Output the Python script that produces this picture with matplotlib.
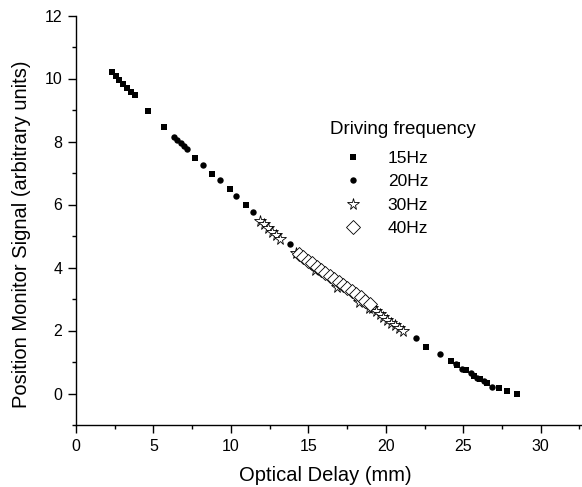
import matplotlib.pyplot as plt

plt.rcParams['font.family'] = ['Liberation Sans', 'DejaVu Sans']

# 15 Hz (squares)
x15 = [2.3, 2.55, 2.8, 3.05, 3.3, 3.55, 3.8, 4.67, 5.67, 7.71, 8.79, 9.91, 10.97,
       22.6, 24.18, 24.61, 25.15, 25.68, 26.11, 26.55, 27.3, 27.8, 28.49]
y15 = [10.2, 10.08, 9.95, 9.83, 9.7, 9.58, 9.47, 8.98, 8.47, 7.48, 6.98, 6.48, 5.97,
       1.48, 1.03, 0.9, 0.74, 0.56, 0.45, 0.32, 0.16, 0.07, -0.03]

# 20 Hz (circles)
x20 = [6.35, 6.55, 6.75, 6.95, 7.15, 8.17, 9.31, 10.36, 11.44, 13.79, 19.11, 21.98,
       23.53, 24.5, 24.93, 25.47, 25.9, 26.33, 26.87]
y20 = [8.15, 8.05, 7.95, 7.85, 7.75, 7.26, 6.77, 6.26, 5.76, 4.76, 2.77, 1.75,
       1.26, 0.95, 0.79, 0.64, 0.5, 0.39, 0.21]

# 30 Hz (stars)
x30 = [11.9, 12.15, 12.4, 12.65, 12.9, 13.15, 14.2, 15.45, 16.85, 18.25, 18.9,
       19.1, 19.35, 19.6, 19.85, 20.1, 20.35, 20.6, 20.85, 21.1]
y30 = [5.48, 5.37, 5.25, 5.14, 5.03, 4.92, 4.45, 3.92, 3.37, 2.91, 2.72,
       2.7, 2.61, 2.52, 2.43, 2.34, 2.25, 2.16, 2.07, 1.98]

# 40 Hz (diamonds)
x40 = [14.40, 14.68, 14.97, 15.25, 15.54, 15.82, 16.10, 16.39, 16.67, 16.96,
       17.24, 17.52, 17.81, 18.09, 18.38, 18.66, 18.95]
y40 = [4.42, 4.32, 4.22, 4.13, 4.03, 3.93, 3.83, 3.73, 3.64, 3.54,
       3.44, 3.35, 3.25, 3.15, 3.05, 2.95, 2.85]

W, H = 582, 487
fig = plt.figure(figsize=(W / 100, H / 100), dpi=100)
ax = fig.add_axes([76 / W, 62 / H, (581 - 76) / W, (425 - 15.5) / H])

ax.plot(x15, y15, 's', color='black', ms=3.7, mew=0, label='15Hz')
ax.plot(x20, y20, 'o', color='black', ms=4.6, mew=0, label='20Hz')
ax.plot(x30, y30, '*', mfc='white', mec='black', ms=8.5, mew=0.6, label='30Hz')
ax.plot(x40, y40, 'D', mfc='white', mec='black', ms=6.8, mew=0.6, label='40Hz')

ax.set_xlim(0, 32.6)
ax.set_ylim(-1, 12)
ax.set_xticks([0, 5, 10, 15, 20, 25, 30])
ax.set_xticks([2.5, 7.5, 12.5, 17.5, 22.5, 27.5, 32.5], minor=True)
ax.set_yticks([0, 2, 4, 6, 8, 10, 12])
ax.set_yticks([-1, 1, 3, 5, 7, 9, 11], minor=True)

ax.spines['top'].set_visible(False)
ax.spines['right'].set_visible(False)
ax.spines['left'].set_linewidth(1.0)
ax.spines['bottom'].set_linewidth(1.0)
ax.tick_params(which='major', length=5.8, width=1.0, labelsize=11.5, pad=4)
ax.tick_params(which='minor', length=2.9, width=1.0)

ax.set_xlabel('Optical Delay (mm)', fontsize=14.5)
ax.set_ylabel('Position Monitor Signal (arbitrary units)', fontsize=14.5)
ax.xaxis.set_label_coords(0.493, -0.1)
ax.yaxis.set_label_coords(-0.09, 0.465)

# legend title as its own text, entries below it
fig.text(330 / W, 1 - 129 / H, 'Driving frequency', fontsize=13.5,
         ha='left', va='center')
leg = ax.legend(loc='upper left', bbox_to_anchor=(330 / W, (H - 151) / H),
                bbox_transform=fig.transFigure, frameon=False, fontsize=12.5,
                handlelength=2.64, handletextpad=0.69,
                labelspacing=0.47, borderpad=0, borderaxespad=0)

fig.savefig('out.png', dpi=100)
